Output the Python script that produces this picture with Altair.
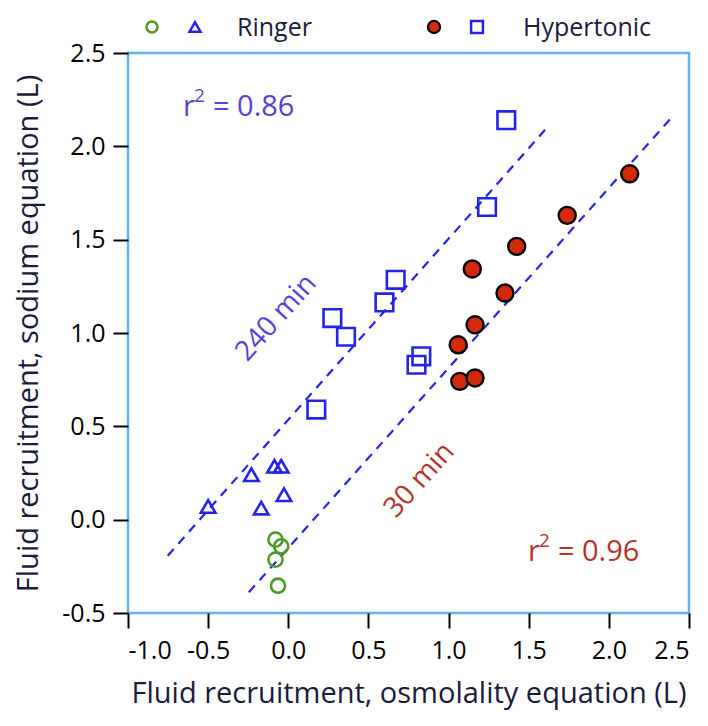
import altair as alt
import pandas as pd

# ---- data ----
sq_x = [1.36, 1.24, 0.67, 0.60, 0.36, 0.275, 0.83, 0.80, 0.175]
sq_y = [2.14, 1.675, 1.285, 1.164, 0.98, 1.08, 0.875, 0.83, 0.59]

red_x = [2.13, 1.74, 1.425, 1.148, 1.352, 1.165, 1.06, 1.07, 1.165]
red_y = [1.853, 1.63, 1.464, 1.343, 1.214, 1.044, 0.937, 0.741, 0.759]

tri_x = [-0.50, -0.23, -0.086, -0.044, -0.169, -0.027]
tri_y = [0.071, 0.241, 0.286, 0.286, 0.062, 0.134]

grn_x = [-0.08, -0.044, -0.08, -0.064]
grn_y = [-0.107, -0.143, -0.214, -0.354]

line240_x = [-0.752, 1.608]
line240_y = [-0.193, 2.094]
line30_x = [-0.246, 2.394]
line30_y = [-0.389, 2.157]

x_ticks = [-1.0, -0.5, 0.0, 0.5, 1.0, 1.5, 2.0, 2.5]
y_ticks = [-0.5, 0.0, 0.5, 1.0, 1.5, 2.0, 2.5]

legend_labels = ["Ringer", "Hypertonic"]

FONT = "Open Sans"
BLUE = "#2424e6"
PURPLE = "#5a3fd6"
DARKRED = "#b3342a"
GREEN = "#4c9a22"
REDFILL = "#d42a0a"
NAVY = "#1b1b3d"

xs = alt.Scale(domain=[-1.0, 2.5], nice=False, zero=False)
ys = alt.Scale(domain=[-0.5, 2.5], nice=False, zero=False)

LBL = "datum.value < 0 ? '-' + format(-datum.value, '.1f') : format(datum.value, '.1f')"
xaxis = alt.Axis(values=x_ticks, labelExpr=LBL, title="Fluid recruitment, osmolality equation (L)")
yaxis = alt.Axis(values=y_ticks, labelExpr=LBL, title="Fluid recruitment, sodium equation (L)")


def df(x, y):
    return pd.DataFrame({"x": x, "y": y})


l240 = alt.Chart(df(line240_x, line240_y)).mark_line(
    color=BLUE, strokeDash=[9, 7], strokeWidth=2.2
).encode(x=alt.X("x:Q", scale=xs, axis=xaxis), y=alt.Y("y:Q", scale=ys, axis=yaxis))
l30 = alt.Chart(df(line30_x, line30_y)).mark_line(
    color=BLUE, strokeDash=[9, 7], strokeWidth=2.2
).encode(x="x:Q", y="y:Q")

squares = alt.Chart(df(sq_x, sq_y)).mark_point(
    shape="square", size=310, filled=False, color=BLUE, strokeWidth=2.6, opacity=1
).encode(x="x:Q", y="y:Q")
reds = alt.Chart(df(red_x, red_y)).mark_point(
    shape="circle", size=290, filled=True, fill=REDFILL, stroke="black", strokeWidth=2.4, opacity=1, fillOpacity=1
).encode(x="x:Q", y="y:Q")
tris = alt.Chart(df(tri_x, tri_y)).mark_point(
    shape="triangle-up", size=210, filled=False, color=BLUE, strokeWidth=2.6, opacity=1
).encode(x="x:Q", y="y:Q")
greens = alt.Chart(df(grn_x, grn_y)).mark_point(
    shape="circle", size=200, filled=False, color=GREEN, strokeWidth=2.6, opacity=1
).encode(x="x:Q", y="y:Q")


def r2_label(xv, yv, value, color):
    d = pd.DataFrame({"x": [xv], "y": [yv]})
    r = alt.Chart(d).mark_text(font=FONT, fontSize=29, color=color, align="left", baseline="alphabetic",
                               text="r").encode(x="x:Q", y="y:Q")
    s = alt.Chart(d).mark_text(font=FONT, fontSize=19, color=color, align="left", baseline="alphabetic",
                               text="2", dx=11, dy=-14).encode(x="x:Q", y="y:Q")
    v = alt.Chart(d).mark_text(font=FONT, fontSize=29, color=color, align="left", baseline="alphabetic",
                               text="= " + value, dx=30).encode(x="x:Q", y="y:Q")
    return [r, s, v]


ann86 = r2_label(-0.657, 2.16, "0.86", PURPLE)
ann96 = r2_label(1.495, -0.22, "0.96", DARKRED)

rot = pd.DataFrame({"x": [-0.073], "y": [1.08], "t": ["240 min"]})
rot_txt = alt.Chart(rot).mark_text(font=FONT, fontSize=28, angle=312, color=PURPLE, align="center",
                                   baseline="middle").encode(x="x:Q", y="y:Q", text="t:N")
rot2 = pd.DataFrame({"x": [0.82], "y": [0.21], "t": ["30 min"]})
rot_txt2 = alt.Chart(rot2).mark_text(font=FONT, fontSize=28, angle=312, color=DARKRED, align="center",
                                     baseline="middle").encode(x="x:Q", y="y:Q", text="t:N")

# manual legend above the plot (pixel layout)
one = pd.DataFrame({"a": [0]})
LEG_Y = -26
leg_g = alt.Chart(one).mark_point(shape="circle", size=120, filled=False, color=GREEN, strokeWidth=2.5,
                                  opacity=1).encode(x=alt.value(24), y=alt.value(LEG_Y))
leg_t = alt.Chart(one).mark_point(shape="triangle-up", size=120, filled=False, color=BLUE, strokeWidth=2.5,
                                  opacity=1).encode(x=alt.value(67), y=alt.value(LEG_Y))
leg_r = alt.Chart(one).mark_point(shape="circle", size=150, filled=True, fill=REDFILL, stroke="black",
                                  strokeWidth=2.2, opacity=1).encode(x=alt.value(306), y=alt.value(LEG_Y))
leg_s = alt.Chart(one).mark_point(shape="square", size=140, filled=False, color=BLUE, strokeWidth=2.5,
                                  opacity=1).encode(x=alt.value(349), y=alt.value(LEG_Y))
leg_txt = alt.Chart(pd.DataFrame({"t": legend_labels, "px": [109, 395]})).mark_text(
    font=FONT, fontSize=25, color=NAVY, align="left", baseline="middle"
).encode(x=alt.X("px:Q", scale=None), y=alt.value(LEG_Y + 1), text="t:N")

chart = alt.layer(
    l240, l30, greens, tris, squares, reds, *ann86, *ann96, rot_txt, rot_txt2,
    leg_g, leg_t, leg_r, leg_s, leg_txt
).properties(
    width=561, height=560,
    autosize=alt.AutoSizeParams(type="none"),
    padding={"left": 120, "top": 45, "right": 11, "bottom": 105},
).configure_view(
    stroke="#63b3ea", strokeWidth=2.5
).configure_axis(
    grid=False, domain=False, ticks=True, tickColor="black", tickWidth=2, tickSize=15,
    labelFont=FONT, labelFontSize=25, labelColor="black",
    titleFont=FONT, titleFontSize=29, titleColor=NAVY, titleFontWeight="normal",
).configure_axisX(labelPadding=10, titlePadding=16).configure_axisY(labelPadding=8, titlePadding=18)

chart.save("out.html", embed_options={"renderer": "svg", "actions": False})
